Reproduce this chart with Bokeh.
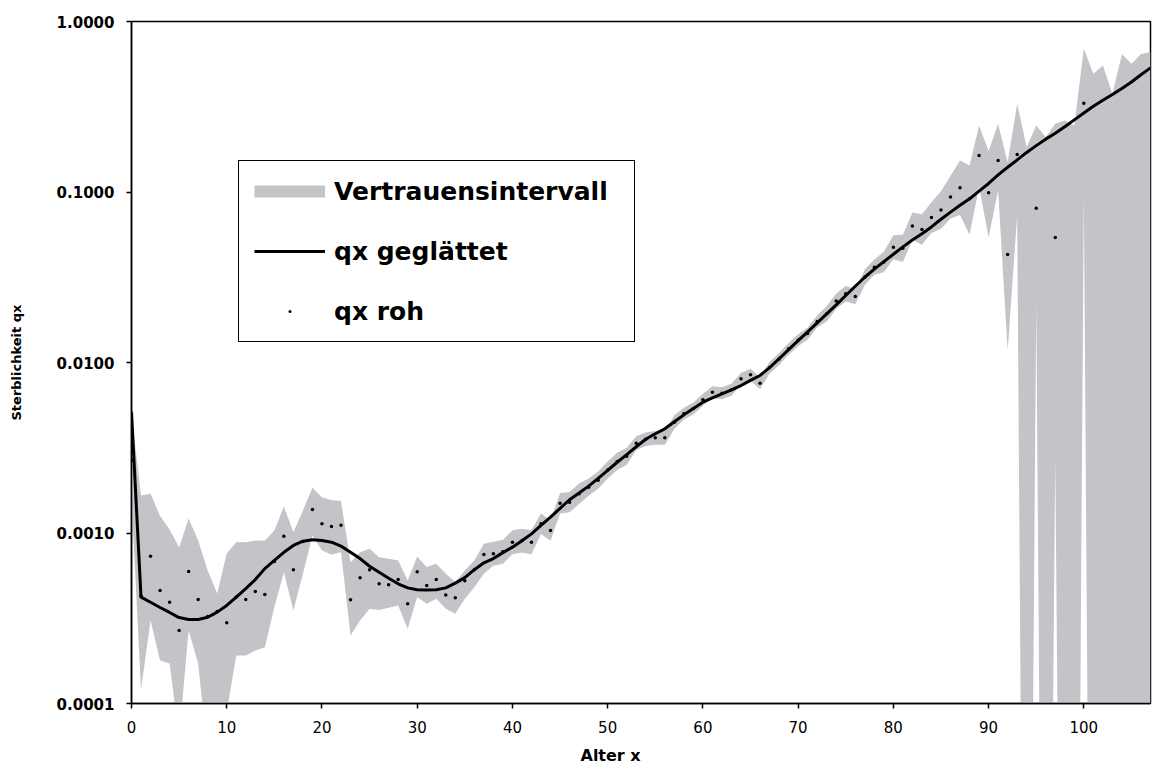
import numpy as np
from bokeh.plotting import figure
from bokeh.models import Range1d, FixedTicker, PrintfTickFormatter, Legend, LegendItem, Title
from bokeh.embed import file_html
from bokeh.resources import INLINE

# ---------------- data (values are log10 of qx) ----------------
ages = list(range(0, 108))

log10_qx_smooth = [
    -2.290, -3.376, -3.406, -3.437, -3.466, -3.496, -3.507, -3.507, -3.494, -3.464,
    -3.425, -3.376, -3.326, -3.273, -3.209, -3.161, -3.113, -3.073, -3.048, -3.040,
    -3.044, -3.054, -3.077, -3.113, -3.150, -3.195, -3.230, -3.265, -3.298, -3.322,
    -3.333, -3.335, -3.333, -3.322, -3.294, -3.262, -3.215, -3.175, -3.150, -3.115,
    -3.083, -3.045, -3.005, -2.955, -2.907, -2.855, -2.805, -2.765, -2.725, -2.680,
    -2.633, -2.585, -2.540, -2.494, -2.450, -2.418, -2.389, -2.348, -2.307, -2.270,
    -2.233, -2.208, -2.184, -2.160, -2.135, -2.105, -2.076, -2.030, -1.978, -1.925,
    -1.872, -1.820, -1.768, -1.715, -1.662, -1.607, -1.553, -1.500, -1.452, -1.408,
    -1.365, -1.322, -1.282, -1.245, -1.205, -1.160, -1.118, -1.078, -1.040, -0.995,
    -0.950, -0.900, -0.855, -0.812, -0.768, -0.728, -0.690, -0.655, -0.617, -0.577,
    -0.537, -0.497, -0.462, -0.428, -0.393, -0.355, -0.312, -0.272,
]

NA = None  # no raw value (no deaths observed)
log10_qx_raw = [
    -2.575, -3.370, -3.136, -3.337, -3.406, -3.572, -3.226, -3.390, -3.490, -3.460,
    -3.527, -3.376, -3.390, -3.343, -3.361, -3.167, -3.019, -3.216, -3.050, -2.862,
    -2.946, -2.962, -2.954, -3.392, -3.263, -3.216, -3.298, -3.304, -3.273, -3.415,
    -3.228, -3.308, -3.273, -3.363, -3.380, -3.280, -3.215, -3.126, -3.122, -3.110,
    -3.054, -3.045, -3.054, -2.946, -2.985, -2.825, -2.819, -2.770, -2.731, -2.690,
    -2.630, -2.580, -2.550, -2.473, -2.450, -2.442, -2.442, -2.350, -2.300, -2.270,
    -2.219, -2.174, -2.180, -2.160, -2.096, -2.072, -2.121, -2.030, -1.980, -1.920,
    -1.870, -1.830, -1.760, -1.714, -1.640, -1.597, -1.613, -1.500, -1.441, -1.410,
    -1.324, -1.330, -1.200, -1.220, -1.150, -1.105, -1.030, -0.975, -1.040, -0.786,
    -1.005, -0.815, -1.367, -0.780, NA, -1.095, NA, -1.267, NA, NA,
    -0.479, NA, NA, NA, NA, NA, NA, NA,
]

log10_ci_upper = [
    -2.300, -2.780, -2.770, -2.900, -2.980, -3.085, -2.915, -3.044, -3.220, -3.355,
    -3.120, -3.054, -3.054, -3.044, -3.044, -2.985, -2.845, -2.995, -2.868, -2.735,
    -2.790, -2.806, -2.813, -3.171, -3.113, -3.093, -3.142, -3.151, -3.161, -3.279,
    -3.138, -3.200, -3.180, -3.239, -3.288, -3.220, -3.161, -3.063, -3.052, -3.040,
    -2.984, -2.975, -2.984, -2.886, -2.925, -2.765, -2.759, -2.710, -2.681, -2.640,
    -2.580, -2.530, -2.500, -2.433, -2.410, -2.402, -2.402, -2.310, -2.265, -2.235,
    -2.184, -2.139, -2.145, -2.125, -2.061, -2.037, -2.086, -1.995, -1.945, -1.885,
    -1.835, -1.795, -1.725, -1.669, -1.595, -1.552, -1.568, -1.455, -1.396, -1.350,
    -1.254, -1.250, -1.120, -1.130, -1.060, -0.995, -0.905, -0.815, -0.845, -0.610,
    -0.760, -0.600, -0.825, -0.483, -0.737, -0.610, -0.678, -0.600, -0.580, -0.610,
    -0.160, -0.307, -0.258, -0.424, -0.190, -0.248, -0.190, -0.180,
]

ZERO = None  # lower bound 0 (no deaths observed)
log10_ci_lower = [
    -2.800, -3.920, -3.513, -3.748, -3.766, -4.200, -3.572, -3.766, -4.300, -4.300,
    -4.050, -3.718, -3.718, -3.689, -3.670, -3.435, -3.230, -3.454, -3.239, -3.015,
    -3.103, -3.126, -3.113, -3.601, -3.513, -3.445, -3.451, -3.439, -3.425, -3.562,
    -3.376, -3.415, -3.386, -3.445, -3.474, -3.386, -3.318, -3.239, -3.192, -3.180,
    -3.124, -3.115, -3.124, -3.006, -3.045, -2.885, -2.879, -2.830, -2.781, -2.740,
    -2.680, -2.630, -2.600, -2.513, -2.490, -2.482, -2.482, -2.390, -2.335, -2.305,
    -2.254, -2.209, -2.215, -2.195, -2.131, -2.107, -2.156, -2.065, -2.015, -1.955,
    -1.905, -1.865, -1.795, -1.759, -1.685, -1.642, -1.658, -1.545, -1.486, -1.470,
    -1.394, -1.410, -1.280, -1.310, -1.240, -1.215, -1.155, -1.135, -1.250, -0.970,
    -1.265, -0.990, -1.930, -1.140, ZERO, -1.650, ZERO, -2.560, ZERO, ZERO,
    -1.020, ZERO, ZERO, ZERO, ZERO, ZERO, ZERO, ZERO,
]

y_ticks = [0.0001, 0.001, 0.01, 0.1, 1.0]
x_ticks = list(range(0, 101, 10))

# ---------------- conversion to qx ----------------
LOG_FLOOR = 1e-9  # a lower bound of 0 lies infinitely far down a log axis
qx_smooth = [10 ** v for v in log10_qx_smooth]
qx_raw = [np.nan if v is None else 10 ** v for v in log10_qx_raw]
ci_upper = [10 ** v for v in log10_ci_upper]
ci_lower = [LOG_FLOOR if v is None else 10 ** v for v in log10_ci_lower]

FONT = "DejaVu Sans"
GREY = "#c4c3c8"

p = figure(width=1156, height=772, y_axis_type="log",
           x_range=Range1d(0, 107), y_range=Range1d(0.0001, 1.0),
           output_backend="svg", toolbar_location=None,
           min_border_left=131, min_border_right=6, min_border_top=21, min_border_bottom=69)
p.background_fill_color = "white"
p.border_fill_color = "white"
p.outline_line_color = "black"
p.outline_line_width = 1.5
p.outline_line_alpha = 1.0
p.grid.visible = False

band = p.varea(x=ages, y1=ci_lower, y2=ci_upper, fill_color=GREY, fill_alpha=1.0)
band_key = p.line(x=[np.nan], y=[np.nan], line_color=GREY, line_width=12)  # legend key only
smooth = p.line(x=ages, y=qx_smooth, line_color="black", line_width=3)
raw = p.scatter(x=ages, y=qx_raw, marker="dot", size=14, line_color="black", fill_color="black")

legend = Legend(items=[LegendItem(label="Vertrauensintervall", renderers=[band_key]),
                       LegendItem(label="qx geglättet", renderers=[smooth]),
                       LegendItem(label="qx roh", renderers=[raw])],
                location=(107, 361), orientation="vertical",
                label_text_font=FONT, label_text_font_style="bold", label_text_font_size="25px",
                label_text_color="black",
                glyph_width=71, glyph_height=30, label_height=30, label_standoff=9,
                label_width=285, spacing=30, padding=15, margin=0,
                border_line_color="black", border_line_width=1.5, border_line_alpha=1.0,
                background_fill_color="white", background_fill_alpha=1.0)
p.add_layout(legend)

# axes
p.xaxis.ticker = FixedTicker(ticks=x_ticks)
p.yaxis.ticker = FixedTicker(ticks=y_ticks)
p.yaxis.formatter = PrintfTickFormatter(format="%.4f")
for ax in (p.xaxis[0], p.yaxis[0]):
    ax.minor_tick_line_color = None
    ax.major_tick_in = 0
    ax.major_tick_out = 5
    ax.axis_line_color = "black"
    ax.axis_line_width = 1.5
    ax.major_tick_line_color = "black"
    ax.major_tick_line_width = 1.5
    ax.major_label_text_font = FONT
    ax.major_label_text_color = "black"

p.xaxis.major_label_text_font_size = "15px"
p.xaxis.major_label_standoff = 12
p.yaxis.major_label_text_font_size = "15px"
p.yaxis.major_label_text_font_style = "bold"
p.yaxis.major_label_standoff = 12

p.yaxis.axis_label = "Sterblichkeit qx"
p.yaxis.axis_label_text_font = FONT
p.yaxis.axis_label_text_font_style = "bold"
p.yaxis.axis_label_text_font_size = "13px"
p.yaxis.axis_label_text_color = "black"
p.yaxis.axis_label_standoff = 30

xtitle = Title(text="Alter x", align="left", offset=449, text_font=FONT,
               text_font_style="bold", text_font_size="16px", text_color="black", standoff=16)
p.add_layout(xtitle, "below")

open("out.html", "w").write(file_html(p, INLINE))
